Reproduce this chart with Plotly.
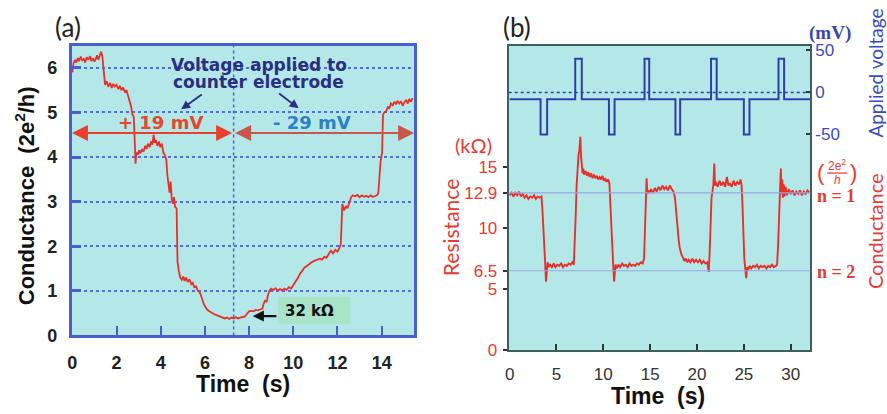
import plotly.graph_objects as go

W, H = 887, 414
def px(x): return x / W
def py(y): return 1 - y / H

# ---------------- Panel (a) data ----------------
a_time = [0.00,0.05,0.12,0.18,0.25,0.30,0.38,0.45,0.52,0.58,0.65,0.72,0.80,0.86,0.93,1.00,1.06,1.12,1.18,1.25,
          1.30,1.36,1.40,1.45,1.48,1.55,1.62,1.70,1.78,1.85,1.92,2.00,2.08,2.15,2.22,2.30,2.38,2.45,2.52,2.58,
          2.65,2.72,2.78,2.82,2.86,2.90,2.96,3.02,3.08,3.15,3.22,3.30,3.36,3.42,3.50,3.56,3.62,3.68,3.72,3.78,
          3.85,3.92,3.98,4.05,4.12,4.18,4.25,4.30,4.36,4.40,4.45,4.50,4.55,4.60,4.65,4.72,4.74,4.76,4.82,4.88,
          4.95,5.02,5.08,5.15,5.22,5.30,5.38,5.45,5.52,5.60,5.68,5.75,5.82,5.88,5.95,6.02,6.10,6.20,6.30,6.40,
          6.50,6.60,6.70,6.80,6.90,7.00,7.10,7.20,7.30,7.40,7.50,7.60,7.70,7.80,7.90,8.00,8.10,8.20,8.30,8.40,
          8.50,8.60,8.65,8.72,8.80,8.85,8.92,9.00,9.10,9.20,9.30,9.40,9.50,9.60,9.70,9.80,9.90,10.00,10.10,10.20,
          10.30,10.40,10.50,10.60,10.70,10.80,10.90,11.00,11.10,11.20,11.30,11.40,11.50,11.60,11.70,11.80,11.90,12.00,12.08,12.15,
          12.18,12.22,12.30,12.38,12.45,12.55,12.62,12.70,12.80,12.90,13.00,13.10,13.20,13.30,13.40,13.50,13.60,13.70,13.80,13.85,
          13.90,13.95,14.02,14.06,14.12,14.20,14.28,14.35,14.42,14.50,14.58,14.65,14.72,14.80,14.88,14.95,15.02,15.10,15.18,15.25,
          15.32,15.40]
a_cond = [5.90,6.10,6.18,6.12,6.22,6.15,6.25,6.17,6.20,6.12,6.24,6.18,6.26,6.15,6.22,6.14,6.20,6.28,6.18,6.30,
          6.36,6.25,6.05,5.80,5.62,5.70,5.58,5.66,5.55,5.64,5.58,5.62,5.52,5.60,5.50,5.56,5.45,5.50,5.38,5.30,
          5.15,4.95,4.90,4.40,3.85,4.10,4.05,4.15,4.08,4.18,4.12,4.25,4.18,4.30,4.22,4.35,4.28,4.50,4.32,4.38,
          4.25,4.35,4.22,4.30,4.10,4.05,3.95,3.60,3.40,3.20,3.45,3.05,2.95,3.10,2.88,2.85,2.20,1.65,1.45,1.30,
          1.25,1.32,1.22,1.30,1.20,1.26,1.15,1.18,1.08,1.10,1.00,0.98,0.90,0.80,0.70,0.64,0.58,0.54,0.50,0.48,
          0.46,0.44,0.42,0.40,0.38,0.40,0.37,0.40,0.38,0.41,0.38,0.40,0.41,0.42,0.48,0.54,0.55,0.54,0.57,0.56,
          0.58,0.60,0.70,0.78,0.76,0.90,1.00,1.05,1.02,1.06,1.00,1.04,1.01,1.05,1.02,1.08,1.05,1.12,1.20,1.28,
          1.38,1.45,1.52,1.55,1.60,1.63,1.66,1.68,1.70,1.72,1.70,1.76,1.74,1.82,1.90,1.84,1.92,1.88,1.95,2.05,
          2.70,2.95,2.80,2.90,2.85,3.00,3.10,3.14,3.12,3.15,3.10,3.14,3.11,3.13,3.10,3.14,3.11,3.12,3.15,3.20,
          3.50,3.90,4.10,4.95,5.00,5.02,5.12,5.10,5.20,5.16,5.24,5.18,5.26,5.20,5.25,5.15,5.22,5.28,5.20,5.30,
          5.24,5.32]
a_xticks = [0, 2, 4, 6, 8, 10, 12, 14]
a_yticks = [0, 1, 2, 3, 4, 5, 6]
switch_time = 7.3
arrow_level = 4.54

# ---------------- Panel (b) data ----------------
b_time = [0.00,0.2,0.4,0.6,0.8,1.0,1.2,1.4,1.6,1.8,2.0,2.2,2.4,2.6,2.8,3.0,3.2,3.4,3.5,3.6,
          3.7,3.8,3.88,3.95,4.05,4.15,4.3,4.5,4.7,4.9,5.1,5.3,5.5,5.7,5.9,6.1,6.3,6.5,6.7,6.85,
          6.95,7.05,7.15,7.25,7.35,7.45,7.55,7.62,7.7,7.78,7.85,7.95,8.1,8.25,8.4,8.55,8.7,8.85,9.0,9.15,
          9.3,9.45,9.6,9.75,9.9,10.05,10.2,10.35,10.5,10.65,10.75,10.85,10.95,11.05,11.15,11.22,11.3,11.45,11.6,11.8,
          12.0,12.2,12.4,12.6,12.8,13.0,13.2,13.4,13.6,13.8,14.0,14.2,14.35,14.45,14.55,14.62,14.7,14.8,14.95,15.1,
          15.3,15.5,15.7,15.9,16.1,16.3,16.5,16.7,16.9,17.1,17.3,17.5,17.65,17.75,17.85,17.95,18.05,18.15,18.25,18.35,
          18.5,18.65,18.8,18.95,19.1,19.3,19.5,19.7,19.9,20.1,20.3,20.5,20.7,20.9,21.1,21.25,21.35,21.45,21.55,21.65,
          21.75,21.85,21.92,22.0,22.2,22.4,22.6,22.8,23.0,23.2,23.35,23.5,23.7,23.9,24.1,24.3,24.5,24.65,24.75,24.85,
          24.95,25.05,25.15,25.25,25.35,25.45,25.6,25.8,26.0,26.2,26.4,26.6,26.8,27.0,27.2,27.4,27.6,27.8,28.0,28.2,
          28.4,28.55,28.65,28.75,28.85,28.95,29.02,29.1,29.18,29.26,29.34,29.45,29.6,29.8,30.0,30.2,30.4,30.6,30.8,31.0,
          31.2,31.4,31.6,31.8,32.0]
b_res = [12.7,12.9,12.6,12.9,12.7,13.0,12.6,12.8,12.5,12.7,12.4,12.6,12.5,12.7,12.4,12.6,12.5,12.6,11.5,9.5,
         8.0,7.0,5.6,6.6,7.2,6.8,7.0,6.8,7.1,6.8,7.0,6.9,7.1,6.8,7.0,6.9,7.1,7.0,7.2,7.0,
         8.5,11.0,13.5,15.0,16.0,16.5,17.5,16.0,15.0,14.5,14.9,14.4,14.7,14.3,14.6,14.2,14.5,14.1,14.4,14.1,
         14.3,14.0,14.2,14.0,14.3,13.9,14.1,13.8,14.0,13.7,12.0,10.0,8.2,7.0,5.6,6.5,7.0,6.7,7.0,6.8,
         7.1,6.9,7.0,6.8,7.1,6.9,7.0,6.9,7.1,7.0,7.2,7.1,7.5,10.0,12.5,14.1,12.8,13.1,12.9,13.2,
         12.9,13.3,13.0,13.4,13.1,13.5,13.2,13.4,13.1,13.5,13.2,13.0,12.5,11.5,10.5,10.0,9.0,8.4,8.0,7.8,
         7.6,7.3,7.5,7.2,7.4,7.2,7.5,7.2,7.4,7.2,7.4,7.1,7.3,7.1,7.2,6.4,8.0,10.5,12.5,13.0,
         13.6,15.3,13.5,13.8,13.4,13.9,13.5,13.8,13.4,14.2,13.5,13.7,13.4,13.9,13.5,13.8,13.6,14.0,13.6,12.0,
         9.5,7.5,6.7,5.9,6.8,6.5,6.9,6.7,6.9,6.8,7.0,6.7,6.9,6.8,6.9,6.7,6.9,6.8,7.0,6.8,
         6.9,7.0,8.5,10.5,12.5,14.9,12.8,14.0,12.5,13.6,12.6,13.4,12.7,13.2,12.8,13.1,12.7,13.0,12.8,13.1,
         12.7,13.0,12.8,13.1,12.9]
v_time = [0, 3.3, 4.0, 7.0, 7.7, 10.6, 11.2, 14.4, 14.9, 17.7, 18.2, 21.5, 22.1, 25.0, 25.6, 28.7, 29.3, 32.1]
v_mv = [-8, -50, -8, 40, -8, -50, -8, 40, -8, -50, -8, 40, -8, -50, -8, 40, -8, -8]
b_xticks = [0, 5, 10, 15, 20, 25, 30]
b_res_ticks = [0, 5, 6.5, 10, 12.9, 15]
b_res_ticktext = ["0", "5", "6.5", "10", "12.9", "15"]
b_v_ticks = [-50, 0, 50]
b_v_ticktext = ["-50", "0", "50"]
quantum_levels = [12.9, 6.5]
quantum_labels = ["n = 1", "n = 2"]

# ---------------- styling ----------------
BG = "#b4e8e8"
BLUE_A = "#4a5fcc"
RED = "#e8302a"
TXTRED = "#e83a32"
VBLUE = "#2c3fa8"
FRAME_B = "#3d5f60"
SANS = "Liberation Sans"
WIDE = "DejaVu Sans"
CAL = "Lato"
SERIF = "Liberation Serif"

fig = go.Figure()
fig.add_trace(go.Scatter(x=a_time, y=a_cond, xaxis="x", yaxis="y", mode="lines",
                         line=dict(color=RED, width=1.8), hoverinfo="skip"))
fig.add_trace(go.Scatter(x=b_time, y=b_res, xaxis="x2", yaxis="y2", mode="lines",
                         line=dict(color=RED, width=1.9), hoverinfo="skip"))
fig.add_trace(go.Scatter(x=v_time, y=v_mv, xaxis="x2", yaxis="y3", mode="lines",
                         line=dict(color=VBLUE, width=2, shape="hv"), hoverinfo="skip"))

shapes = [
    dict(type="line", xref="x", yref="y domain", x0=switch_time, x1=switch_time, y0=0, y1=1,
         line=dict(color=BLUE_A, width=1.5, dash="dot")),
    dict(type="line", xref="x2 domain", yref="y3", x0=0, x1=1, y0=0, y1=0,
         line=dict(color=VBLUE, width=1.5, dash="dot")),
    dict(type="rect", xref="paper", yref="paper", x0=px(275), x1=px(348), y0=py(331), y1=py(303),
         fillcolor="#a9e4c9", line=dict(width=0), layer="below"),
]
for lv in quantum_levels:
    shapes.append(dict(type="line", xref="x2 domain", yref="y2", x0=0, x1=1, y0=lv, y1=lv,
                       line=dict(color="#9aa6e6", width=1.2)))
# fraction bar for (2e^2/h)
shapes.append(dict(type="line", xref="paper", yref="paper", x0=px(827), x1=px(847), y0=py(175), y1=py(175),
                   line=dict(color=TXTRED, width=1.2)))

def T(x, y, text, size, color="#222", family=SANS, bold=False, angle=0, **kw):
    return dict(x=px(x), y=py(y), xref="paper", yref="paper", text=text, showarrow=False,
                xanchor="center", yanchor="middle",
                textangle=angle, font=dict(size=size, color=color, family=family,
                                           weight="bold" if bold else "normal"), **kw)

ann = [
    T(64, 24, "(a)", 26, "#222", CAL),
    T(515, 24, "(b)", 26, "#222", CAL),
    T(240, 393, "Time\u00a0\u00a0(s)", 23, "#111", SANS, True),
    T(657, 406, "Time\u00a0\u00a0(s)", 23, "#111", SANS, True),
    T(21, 198, "Conductance\u00a0\u00a0(2e<sup>2</sup>/h)", 22, "#111", SANS, True, -90),
    T(256, 63, "Voltage applied to", 17, "#2a2f80", WIDE, True),
    T(256, 81, "counter electrode", 17, "#2a2f80", WIDE, True),
    T(157, 123, "+ 19 mV", 18, "#e8462a", WIDE, True),
    T(309, 123, "- 29 mV", 18, "#2f7fc4", WIDE, True),
    T(307, 318, "32 kΩ", 15, "#111", WIDE, True),
    T(830, 30, "(mV)", 19, "#3a46b0", SERIF, True),
    T(876, 72, "Applied voltage", 19, "#3b4cc0", CAL, False, -90),
    T(875, 235, "Conductance", 20, TXTRED, CAL, False, -90),
    T(448, 231, "Resistance", 21, TXTRED, CAL, False, -90),
    T(472, 146, "(kΩ)", 20, TXTRED, CAL),
    T(837, 167, "2e<sup>2</sup>", 12, TXTRED, SANS, False),
    T(837, 182, "<i>h</i>", 12, TXTRED, SANS, False),
    T(821, 174, "(", 22, TXTRED, SANS),
    T(853, 174, ")", 22, TXTRED, SANS),
]
for lv, lab, ypix in zip(quantum_levels, quantum_labels, [199, 277]):
    ann.append(T(836, ypix, lab, 18, TXTRED, SERIF, True))

# arrows (head at hx,hy; tail at tx,ty; pixel offsets)
def A(hx, hy, tx, ty, color, width, size):
    return dict(x=px(hx), y=py(hy), ax=tx - hx, ay=ty - hy, xref="paper", yref="paper",
                axref="pixel", ayref="pixel", text="", showarrow=True, arrowhead=2,
                arrowsize=size, arrowwidth=width, arrowcolor=color)

ann += [
    A(178, 109, 200, 93, "#2a2f80", 1.8, 1.0),
    A(296, 108, 275, 92, "#2a2f80", 1.8, 1.0),
    A(250, 323, 275, 323, "#111", 2.2, 1.0),
]
# horizontal voltage-period arrows in data coordinates
ann.append(dict(x=-0.02, y=arrow_level, ax=switch_time, ay=arrow_level, xref="x", yref="y",
                axref="x", ayref="y", text="", showarrow=True, arrowhead=2, arrowsize=1.6,
                arrowwidth=2, arrowcolor="#e8402a", arrowside="end+start",
                startarrowhead=2, startarrowsize=1.6))
ann.append(dict(x=15.47, y=arrow_level, ax=switch_time, ay=arrow_level, xref="x", yref="y",
                axref="x", ayref="y", text="", showarrow=True, arrowhead=2, arrowsize=1.6,
                arrowwidth=2, arrowcolor="#c8564c", arrowside="end+start",
                startarrowhead=2, startarrowsize=1.6))

fig.update_layout(
    width=W, height=414, autosize=False,
    margin=dict(l=0, r=0, t=0, b=0),
    paper_bgcolor="white", plot_bgcolor=BG,
    showlegend=False,
    xaxis=dict(domain=[px(68), px(412)], range=[-0.03, 15.47], anchor="y",
               tickvals=a_xticks, ticks="inside", ticklen=10, tickwidth=2, tickcolor=BLUE_A,
               showline=True, mirror=True, linecolor=BLUE_A, linewidth=2.5,
               showgrid=False, zeroline=False, ticklabelstandoff=9,
               tickfont=dict(family=SANS, size=18, color="#222", weight="bold")),
    yaxis=dict(domain=[py(343), py(43)], range=[0, 6.5], anchor="x",
               tickvals=a_yticks, ticks="inside", ticklen=10, tickwidth=2.5, tickcolor=BLUE_A,
               showline=True, mirror=True, linecolor=BLUE_A, linewidth=2.5,
               showgrid=True, gridcolor="#4f6fd4", griddash="dot", gridwidth=2,
               zeroline=False, ticklabelstandoff=8,
               tickfont=dict(family=SANS, size=18, color="#222", weight="bold")),
    xaxis2=dict(domain=[px(507), px(810)], range=[-0.1, 32.1], anchor="y2",
                tickvals=b_xticks, ticks="inside", ticklen=6, tickwidth=1.5, tickcolor="#333",
                showline=True, mirror=True, linecolor=FRAME_B, linewidth=2,
                showgrid=False, zeroline=False, ticklabelstandoff=8,
                tickfont=dict(family=SANS, size=17, color="#333")),
    yaxis2=dict(domain=[py(358), py(43)], range=[0, 25], anchor="x2",
                tickvals=b_res_ticks, ticktext=b_res_ticktext, ticks="outside", ticklen=4,
                tickwidth=1.5, tickcolor="#333",
                showline=True, mirror=True, linecolor=FRAME_B, linewidth=2,
                showgrid=False, zeroline=False, ticklabelstandoff=2,
                tickfont=dict(family=SANS, size=17, color=TXTRED)),
    yaxis3=dict(overlaying="y2", side="right", anchor="x2", range=[-306, 55.7],
                tickvals=b_v_ticks, ticktext=b_v_ticktext, ticks="inside", ticklen=4,
                tickwidth=1.5, tickcolor="#333", showline=False, showgrid=False, zeroline=False,
                ticklabelstandoff=4,
                tickfont=dict(family=SANS, size=17, color="#3b4cc0")),
    shapes=shapes,
    annotations=ann,
)

fig.write_html("out.html")
